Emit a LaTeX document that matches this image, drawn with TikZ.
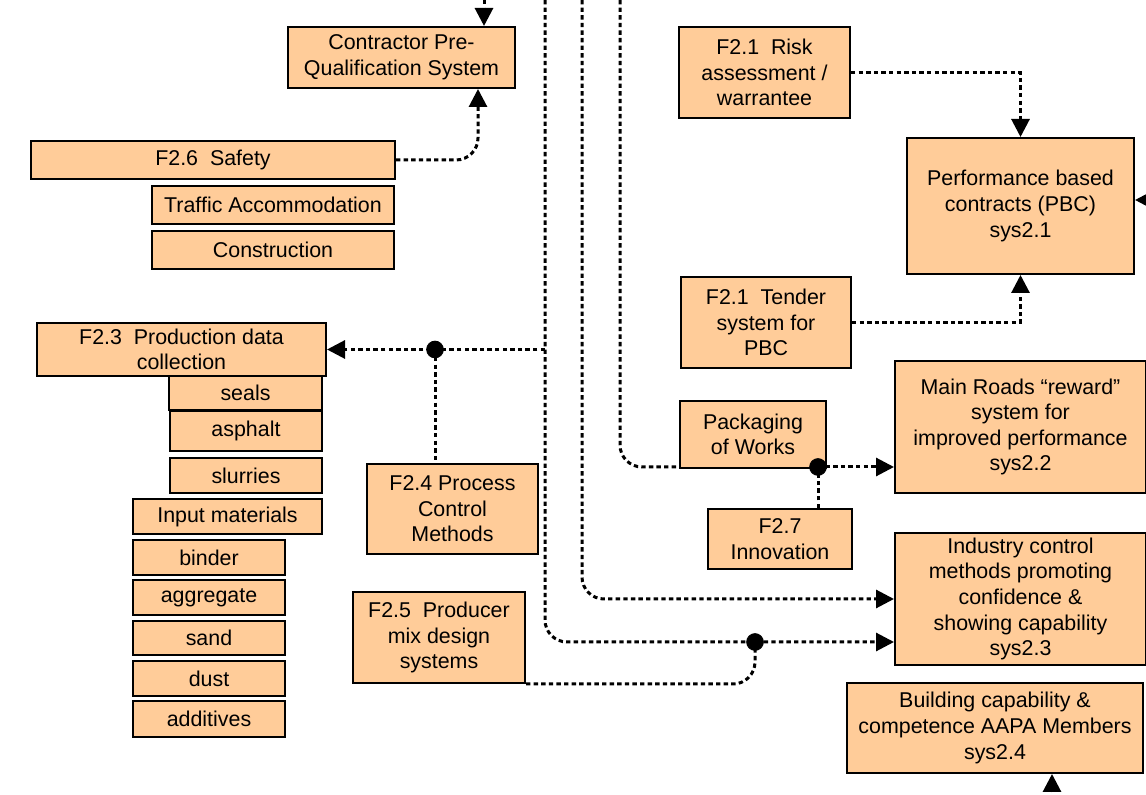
\documentclass[tikz,border=0pt]{standalone}
\usepackage{fontspec}
\setmainfont{Liberation Sans}
\usetikzlibrary{arrows.meta, positioning}
\definecolor{peach}{RGB}{255,204,153}
\tikzset{
  box/.style={draw, fill=peach, line width=1pt, align=center, inner sep=0pt,
    font=\fontsize{10.7}{12.8}\selectfont},
  flow/.style={line width=1.5pt, dash pattern=on 2.2pt off 1.6pt},
  tip/.style={-{Triangle[length=9pt,width=9pt]}}
}

\begin{document}
\begin{tikzpicture}[x=0.5pt, y=-0.5pt]
\useasboundingbox (0,0) rectangle (1146,795);

\node[box, minimum width=113.5pt, minimum height=30.5pt] (cps) at (401.5,57.5) {Contractor Pre-\\Qualification System};
\node[box, minimum width=182pt, minimum height=19pt] (safety) at (213,160) {F2.6~ Safety};
\node[box, minimum width=121pt, minimum height=19pt] (traffic) at (273,205) {Traffic Accommodation};
\node[box, minimum width=121pt, minimum height=19pt] (constr) at (273,250) {Construction};

\node[box, minimum width=144.5pt, minimum height=26.5pt] (prod) at (181.5,349.5) {F2.3~ Production data\\collection};
\node[box, minimum width=76.5pt, minimum height=17pt] (seals) at (245.5,393) {seals};
\node[box, minimum width=76pt, minimum height=20pt] (asphalt) at (246,431) {asphalt};
\node[box, minimum width=76pt, minimum height=17.5pt] (slurries) at (246,475.5) {slurries};
\node[box, minimum width=94.5pt, minimum height=17.5pt] (input) at (227.5,516.5) {Input materials};
\node[box, minimum width=76pt, minimum height=17.5pt] (binder) at (209,557.5) {binder};
\node[box, minimum width=76pt, minimum height=17.5pt] (aggregate) at (209,597.5) {aggregate};
\node[box, minimum width=76pt, minimum height=17pt] (sand) at (209,638) {sand};
\node[box, minimum width=76pt, minimum height=17.5pt] (dust) at (209,678.5) {dust};
\node[box, minimum width=76pt, minimum height=18pt] (additives) at (209,719) {additives};

\node[box, minimum width=85.5pt, minimum height=45pt] (pcm) at (452.5,509) {F2.4 Process\\Control\\Methods};
\node[box, minimum width=86pt, minimum height=45.5pt] (mix) at (439,637.5) {F2.5~ Producer\\mix design\\systems};

\node[box, minimum width=85.5pt, minimum height=45.5pt] (risk) at (764.5,72.5) {F2.1~ Risk\\assessment /\\warrantee};
\node[box, minimum width=113.5pt, minimum height=68pt] (pbc) at (1020.5,206) {Performance based\\contracts (PBC)\\sys2.1};
\node[box, minimum width=85pt, minimum height=45.5pt] (tender) at (766,322.5) {F2.1~ Tender\\system for\\PBC};
\node[box, minimum width=73pt, minimum height=33.5pt] (pack) at (753,434.5) {Packaging\\of Works};
\node[box, minimum width=72pt, minimum height=30pt] (innov) at (780,539) {F2.7\\Innovation};
\node[box, minimum width=125.5pt, minimum height=66pt] (reward) at (1020.5,427) {Main Roads ``reward''\\system for\\improved performance\\sys2.2};
\node[box, minimum width=125.5pt, minimum height=66pt] (icm) at (1020.5,599) {Industry control\\methods promoting\\confidence \&\\showing capability\\sys2.3};
\node[box, minimum width=148pt, minimum height=45pt] (bcc) at (995,728) {Building capability \&\\competence AAPA Members\\sys2.4};

\coordinate (topcps) at (484,0);
\coordinate (lineA) at (545,0);
\coordinate (lineB) at (582,0);
\coordinate (lineC) at (620,0);
\coordinate (rightin) at (1160,200);
\coordinate (botin) at (1052,800);
\coordinate (jprod) at (435,349.5);
\coordinate (jmix) at (755,642);
\coordinate (jpack) at (818,467);

\begin{scope}[flow]
\draw[tip] (topcps) -- (topcps |- cps.north);
\draw[tip, rounded corners=11pt] (safety.east) -| ([xshift=-19pt]cps.south east);
\draw[tip] (risk.east) -| (pbc.north);
\draw[tip] (tender.east) -| (pbc.south);
\draw[tip] (rightin) -- (rightin -| pbc.east);
\draw[tip] (botin) -- (botin |- bcc.south);
\draw[tip, rounded corners=11pt] (lineA) |- (jmix -| icm.west);
\draw[tip] (lineA |- jprod) -- (prod.east);
\draw (jprod) -- (jprod |- pcm.north);
\draw[rounded corners=11pt] (mix.south east) -| (jmix);
\draw[tip, rounded corners=11pt] (lineB) |- (icm.west);
\draw[rounded corners=11pt] (lineC) |- (jpack -| pack.west);
\draw[tip] (jpack) -- (jpack -| reward.west);
\draw (innov.north -| jpack) -- (jpack);
\end{scope}

\filldraw (jprod) circle [radius=4.2pt];
\filldraw (jmix) circle [radius=4.2pt];
\filldraw (jpack) circle [radius=4.2pt];
\end{tikzpicture}
\end{document}
